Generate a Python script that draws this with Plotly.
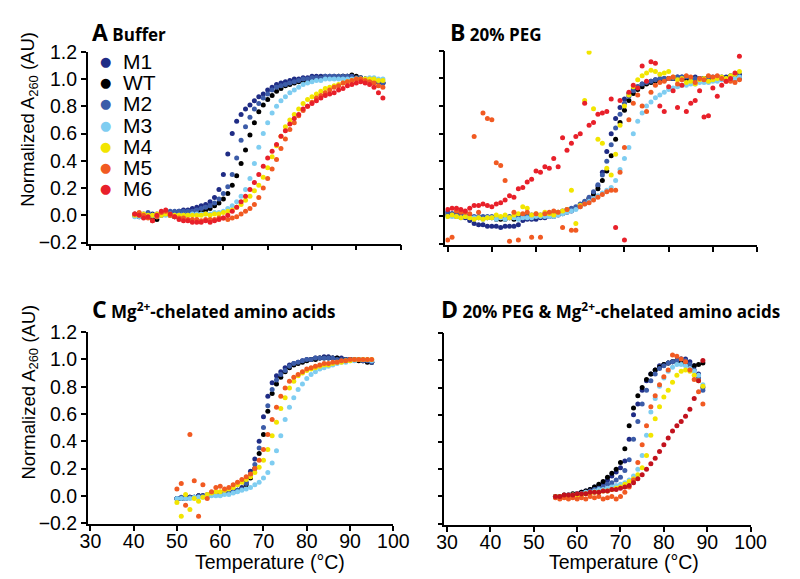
import plotly.graph_objects as go

# ---------------- data ----------------
SERIES = ["M1", "WT", "M2", "M3", "M4", "M5", "M6"]
COLORS = {"M1": "#1f2c85", "WT": "#000000", "M2": "#3c5ca8", "M3": "#7fcdf1",
          "M4": "#f2e500", "M5": "#f15a22", "M6": "#e8202a"}
COLOR_M6_D = "#c2121d"

# Panel A: Buffer (T = 40..96 °C)
T_A = list(range(40, 97))
A_M1 = [0.00, 0.00, -0.01, 0.00, 0.01, 0.00, 0.01, 0.02, 0.02, 0.02,
        0.03, 0.04, 0.04, 0.05, 0.06, 0.07, 0.08, 0.10, 0.13, 0.19,
        0.30, 0.45, 0.60, 0.69, 0.74, 0.78, 0.81, 0.84, 0.87, 0.89,
        0.92, 0.94, 0.96, 0.97, 0.98, 0.99, 1.00, 1.00, 1.01, 1.01,
        1.02, 1.02, 1.02, 1.02, 1.02, 1.02, 1.01, 1.02, 1.02, 1.01,
        1.01, 1.00, 1.00, 0.99, 0.99, 0.98, 0.97]
A_WT = [0.00, -0.01, 0.00, -0.01, -0.03, -0.03, 0.00, 0.01, 0.00, -0.01,
        0.00, 0.00, 0.01, 0.01, 0.02, 0.03, 0.04, 0.05, 0.07, 0.09,
        0.12, 0.16, 0.22, 0.29, 0.38, 0.48, 0.59, 0.68, 0.76, 0.81,
        0.85, 0.88, 0.91, 0.93, 0.95, 0.96, 0.97, 0.98, 0.99, 0.99,
        1.00, 1.00, 1.01, 1.01, 1.01, 1.01, 1.02, 1.02, 1.02, 1.03,
        1.02, 1.01, 1.00, 1.00, 0.99, 0.98, 0.97]
A_M2 = [0.01, 0.00, 0.01, 0.02, 0.00, 0.01, 0.02, 0.02, 0.03, 0.03,
        0.03, 0.03, 0.03, 0.03, 0.04, 0.05, 0.06, 0.07, 0.09, 0.12,
        0.16, 0.21, 0.30, 0.42, 0.55, 0.65, 0.72, 0.78, 0.82, 0.86,
        0.89, 0.92, 0.94, 0.95, 0.96, 0.97, 0.98, 0.99, 1.00, 1.00,
        1.01, 1.01, 1.01, 1.02, 1.02, 1.02, 1.02, 1.02, 1.02, 1.02,
        1.01, 1.01, 1.00, 1.00, 0.99, 0.98, 0.97]
A_M3 = [-0.01, -0.01, 0.00, -0.01, 0.00, -0.01, 0.00, 0.00, 0.01, 0.00,
        0.00, 0.00, 0.00, 0.01, 0.01, 0.01, 0.01, 0.01, 0.02, 0.02,
        0.03, 0.05, 0.07, 0.10, 0.14, 0.19, 0.27, 0.38, 0.50, 0.60,
        0.68, 0.75, 0.80, 0.84, 0.87, 0.90, 0.92, 0.94, 0.96, 0.97,
        0.98, 0.99, 0.99, 1.00, 1.00, 1.00, 1.00, 1.00, 1.00, 1.00,
        1.00, 1.00, 1.00, 1.01, 1.01, 1.00, 1.00]
A_M4 = [0.00, 0.00, 0.01, 0.00, 0.00, 0.01, 0.00, 0.01, 0.00, 0.00,
        0.00, 0.00, 0.00, 0.00, 0.00, 0.00, 0.01, 0.00, 0.01, 0.01,
        0.02, 0.03, 0.04, 0.06, 0.08, 0.11, 0.14, 0.18, 0.22, 0.28,
        0.35, 0.43, 0.51, 0.58, 0.65, 0.70, 0.74, 0.78, 0.82, 0.85,
        0.87, 0.89, 0.91, 0.93, 0.94, 0.95, 0.96, 0.97, 0.98, 0.99,
        1.00, 1.00, 1.00, 1.00, 1.00, 0.99, 0.99]
A_M5 = [0.01, 0.02, 0.00, -0.02, -0.04, -0.01, 0.02, 0.03, 0.00, -0.01,
        -0.02, -0.02, -0.03, -0.03, -0.03, -0.04, -0.03, -0.03, -0.03, -0.02,
        -0.02, -0.03, -0.02, -0.01, 0.01, 0.03, 0.05, 0.08, 0.13, 0.20,
        0.27, 0.34, 0.41, 0.49, 0.56, 0.63, 0.68, 0.73, 0.77, 0.80,
        0.83, 0.86, 0.88, 0.90, 0.92, 0.94, 0.95, 0.97, 0.98, 0.99,
        1.00, 1.00, 0.99, 0.98, 0.97, 0.95, 0.94]
A_M6 = [0.01, 0.00, -0.02, -0.01, -0.04, 0.00, 0.03, 0.04, 0.01, -0.01,
        -0.03, -0.04, -0.04, -0.05, -0.05, -0.05, -0.04, -0.05, -0.04, -0.03,
        -0.02, 0.00, 0.03, 0.06, 0.10, 0.14, 0.19, 0.24, 0.30, 0.36,
        0.42, 0.47, 0.52, 0.58, 0.62, 0.67, 0.71, 0.74, 0.78, 0.80,
        0.82, 0.84, 0.86, 0.88, 0.89, 0.90, 0.92, 0.93, 0.95, 0.96,
        0.97, 0.98, 0.97, 0.96, 0.94, 0.90, 0.86]

# Panel B: 20% PEG (T = 30..96 °C)
T_B = list(range(30, 97))
B_M1 = [0.03, 0.02, 0.01, 0.00, -0.01, -0.03, -0.05, -0.06, -0.06, -0.07,
        -0.07, -0.07, -0.08, -0.07, -0.07, -0.07, -0.06, -0.03, -0.02, -0.02,
        -0.02, -0.01, -0.01, 0.00, 0.00, 0.01, 0.02, 0.03, 0.04, 0.06,
        0.08, 0.10, 0.13, 0.17, 0.22, 0.32, 0.47, 0.60, 0.71, 0.79,
        0.85, 0.89, 0.92, 0.94, 0.96, 0.97, 0.98, 0.99, 0.99, 1.00,
        1.00, 1.00, 1.01, 1.01, 1.00, 1.00, 1.01, 1.00, 1.00, 1.00,
        1.00, 1.01, 1.01, 1.01, 1.02, 1.02, 1.03]
B_WT = [0.01, 0.01, 0.00, 0.00, 0.00, -0.01, -0.01, -0.01, -0.01, -0.01,
        -0.01, -0.02, -0.02, -0.02, -0.01, -0.02, -0.01, 0.01, 0.00, 0.00,
        0.00, 0.00, 0.01, 0.01, 0.02, 0.02, 0.03, 0.04, 0.05, 0.06,
        0.08, 0.10, 0.13, 0.16, 0.20, 0.26, 0.33, 0.44, 0.56, 0.68,
        0.77, 0.84, 0.89, 0.92, 0.94, 0.96, 0.97, 0.98, 0.99, 0.99,
        1.00, 1.00, 1.00, 1.00, 1.00, 1.00, 1.00, 1.00, 1.00, 1.00,
        1.00, 1.00, 1.00, 1.00, 1.00, 1.00, 1.00]
B_M2 = [0.03, 0.02, 0.02, 0.02, 0.01, 0.01, 0.00, 0.00, 0.00, 0.00,
        0.00, 0.00, -0.01, -0.01, 0.00, -0.01, 0.00, 0.00, 0.00, 0.01,
        0.01, 0.01, 0.02, 0.02, 0.03, 0.03, 0.04, 0.05, 0.06, 0.07,
        0.09, 0.11, 0.14, 0.18, 0.23, 0.30, 0.40, 0.52, 0.64, 0.74,
        0.82, 0.87, 0.91, 0.94, 0.96, 0.97, 0.98, 0.99, 1.00, 1.00,
        1.00, 1.00, 1.01, 1.01, 1.01, 1.00, 1.00, 1.00, 1.00, 1.01,
        1.01, 1.01, 1.00, 1.00, 1.01, 1.01, 1.01]
B_M3 = [0.00, 0.00, 0.00, -0.01, 0.00, -0.01, -0.01, -0.01, -0.02, -0.01,
        -0.01, -0.02, -0.01, -0.02, -0.01, -0.01, -0.02, -0.01, -0.01, -0.01,
        0.00, 0.00, 0.00, 0.00, 0.00, 0.01, 0.02, 0.03, 0.04, 0.05,
        0.07, 0.09, 0.11, 0.13, 0.15, 0.17, 0.19, 0.21, 0.26, 0.34,
        0.42, 0.50, 0.60, 0.69, 0.75, 0.80, 0.83, 0.86, 0.88, 0.90,
        0.92, 0.93, 0.94, 0.95, 0.95, 0.96, 0.96, 0.97, 0.97, 0.97,
        0.98, 0.98, 0.99, 0.99, 1.00, 1.00, 1.01]
B_M4 = [0.00, 0.01, 0.00, -0.01, 0.00, -0.01, -0.02, -0.01, -0.02, -0.01,
        -0.01, 0.01, 0.00, 0.01, -0.01, 0.01, 0.02, 0.07, 0.06, 0.01,
        0.02, 0.01, 0.03, 0.02, 0.01, 0.03, 0.04, 0.05, 0.19, -0.05,
        0.08, 0.84, 1.19, 0.78, 0.56, 0.53, 0.35, 0.30, 0.45, 0.66,
        0.80, 0.88, 0.94, 0.99, 1.02, 1.04, 1.06, 1.05, 1.03, 1.04,
        1.05, 1.01, 0.99, 1.00, 0.97, 0.98, 0.96, 0.99, 1.00, 0.98,
        0.99, 1.00, 1.01, 1.00, 1.02, 1.03, 1.05]
B_M5 = [-0.17, -0.15, 0.04, 0.03, 0.03, 0.02, 0.58, 0.03, 0.75, 0.71,
        0.70, 0.39, 0.37, 0.26, -0.18, 0.03, -0.17, 0.02, 0.03, -0.15,
        0.02, -0.15, 0.02, 0.03, 0.04, 0.03, -0.08, 0.05, -0.10, -0.10,
        0.07, 0.09, 0.10, 0.12, 0.14, 0.16, 0.18, 0.19, 0.19, 0.32,
        0.50, 0.70, 0.82, 0.88, 0.80, 0.76, 0.90, 0.95, 0.97, 0.98,
        1.00, 1.01, 0.96, 0.99, 1.02, 1.01, 0.97, 1.00, 0.99, 1.02,
        1.01, 1.02, 1.00, 0.98, 0.98, 0.97, 0.99]
B_M6 = [0.05, 0.06, 0.06, 0.05, 0.04, 0.06, 0.08, 0.08, 0.09, 0.08,
        0.07, 0.09, 0.10, 0.12, 0.15, 0.14, 0.20, 0.21, 0.25, 0.27,
        0.33, 0.32, 0.36, 0.35, 0.42, 0.36, 0.57, 0.48, 0.53, 0.58,
        0.60, 0.82, 0.66, 0.68, 0.74, 0.75, 0.76, 0.85, -0.08, 0.84,
        -0.17, 0.90, 0.95, 0.93, 1.09, 0.98, 1.12, 1.11, 0.80, 0.76,
        0.94, 0.91, 0.79, 0.95, 0.76, 0.82, 0.84, 0.91, 0.72, 0.73,
        0.93, 0.87, 0.95, 0.98, 1.00, 1.04, 1.16]

# Panel C: Mg2+-chelated amino acids (T = 50..95 °C)
T_C = list(range(50, 96))
C_M1 = [-0.02, -0.02, -0.02, -0.01, -0.01, 0.00, 0.00, 0.00, 0.01, 0.01,
        0.01, 0.02, 0.02, 0.03, 0.04, 0.06, 0.10, 0.18, 0.27, 0.40,
        0.58, 0.73, 0.83, 0.88, 0.91, 0.94, 0.96, 0.97, 0.98, 0.99,
        1.00, 1.00, 1.01, 1.01, 1.02, 1.02, 1.01, 1.01, 1.01, 1.00,
        1.00, 1.00, 1.00, 0.99, 0.99, 0.98]
C_WT = [-0.02, -0.02, -0.01, -0.01, -0.01, 0.00, 0.00, 0.00, 0.01, 0.01,
        0.01, 0.02, 0.02, 0.03, 0.04, 0.05, 0.08, 0.13, 0.20, 0.31,
        0.45, 0.62, 0.75, 0.82, 0.87, 0.91, 0.94, 0.96, 0.97, 0.98,
        0.99, 1.00, 1.00, 1.01, 1.01, 1.01, 1.01, 1.01, 1.00, 1.00,
        1.00, 1.00, 0.99, 0.99, 0.98, 0.98]
C_M2 = [-0.02, -0.01, -0.02, -0.01, -0.01, 0.00, 0.00, 0.01, 0.01, 0.01,
        0.02, 0.02, 0.03, 0.03, 0.04, 0.05, 0.09, 0.15, 0.23, 0.35,
        0.50, 0.66, 0.78, 0.85, 0.89, 0.92, 0.95, 0.97, 0.98, 0.99,
        1.00, 1.00, 1.01, 1.01, 1.01, 1.01, 1.01, 1.00, 1.00, 1.00,
        1.00, 1.00, 1.00, 0.99, 0.99, 0.98]
C_M3 = [-0.02, -0.02, -0.02, -0.02, -0.01, -0.01, -0.01, -0.01, 0.00, 0.00,
        0.00, 0.01, 0.01, 0.02, 0.03, 0.04, 0.05, 0.06, 0.08, 0.10,
        0.13, 0.17, 0.24, 0.33, 0.44, 0.56, 0.65, 0.72, 0.78, 0.82,
        0.86, 0.89, 0.91, 0.93, 0.94, 0.95, 0.96, 0.97, 0.98, 0.98,
        0.99, 0.99, 1.00, 1.00, 1.00, 0.99]
C_M4 = [-0.05, -0.15, 0.01, -0.10, -0.02, -0.04, -0.01, 0.01, 0.02, 0.03,
        0.03, 0.04, 0.05, 0.06, 0.08, 0.10, 0.12, 0.14, 0.17, 0.21,
        0.26, 0.34, 0.44, 0.54, 0.64, 0.72, 0.79, 0.84, 0.88, 0.90,
        0.92, 0.93, 0.94, 0.95, 0.96, 0.96, 0.97, 0.98, 0.98, 0.99,
        0.99, 1.00, 1.00, 1.00, 1.00, 1.00]
C_M5 = [0.05, 0.09, -0.07, 0.45, 0.11, -0.15, 0.08, -0.02, 0.03, 0.06,
        0.07, 0.05, 0.06, 0.08, 0.10, 0.12, 0.14, 0.16, 0.20, 0.26,
        0.34, 0.45, 0.56, 0.65, 0.73, 0.79, 0.84, 0.87, 0.89, 0.91,
        0.93, 0.94, 0.95, 0.96, 0.97, 0.97, 0.98, 0.98, 0.99, 0.99,
        1.00, 1.00, 1.00, 1.00, 1.00, 1.00]

# Panel D: 20% PEG & Mg2+-chelated amino acids (T = 55..89 °C)
T_D = list(range(55, 90))
D_M1 = [0.00, -0.01, 0.00, 0.00, 0.01, 0.02, 0.03, 0.04, 0.05, 0.07,
        0.08, 0.10, 0.12, 0.15, 0.18, 0.21, 0.26, 0.42, 0.60, 0.68,
        0.78, 0.85, 0.90, 0.93, 0.96, 0.97, 0.98, 0.99, 1.00, 1.01,
        1.01, 0.99, 0.96, 0.90, 0.80]
D_WT = [0.00, 0.00, 0.01, 0.01, 0.02, 0.02, 0.03, 0.04, 0.05, 0.07,
        0.09, 0.11, 0.14, 0.17, 0.20, 0.25, 0.35, 0.52, 0.65, 0.74,
        0.80, 0.86, 0.90, 0.93, 0.95, 0.97, 0.98, 0.99, 1.00, 0.99,
        0.97, 0.96, 0.96, 0.97, 0.98]
D_M2 = [0.00, 0.00, 0.00, 0.01, 0.01, 0.02, 0.02, 0.03, 0.04, 0.05,
        0.06, 0.07, 0.09, 0.10, 0.12, 0.14, 0.19, 0.27, 0.42, 0.55,
        0.68, 0.78, 0.85, 0.90, 0.94, 0.96, 0.98, 0.99, 1.00, 1.01,
        1.00, 0.97, 0.93, 0.87, 0.78]
D_M3 = [0.00, 0.00, 0.00, 0.01, 0.01, 0.02, 0.02, 0.03, 0.03, 0.04,
        0.05, 0.05, 0.06, 0.07, 0.08, 0.09, 0.10, 0.12, 0.15, 0.20,
        0.30, 0.45, 0.62, 0.72, 0.81, 0.87, 0.92, 0.95, 0.97, 0.97,
        0.96, 0.94, 0.92, 0.89, 0.82]
D_M4 = [0.00, 0.00, 0.00, 0.00, 0.01, 0.01, 0.01, 0.02, 0.02, 0.03,
        0.03, 0.04, 0.04, 0.05, 0.06, 0.07, 0.09, 0.11, 0.13, 0.16,
        0.21, 0.30, 0.45, 0.57, 0.66, 0.73, 0.78, 0.84, 0.89, 0.92,
        0.93, 0.92, 0.89, 0.85, 0.81]
D_M5 = [-0.01, -0.02, -0.01, -0.02, -0.01, -0.02, -0.01, -0.02, 0.00, -0.01,
        0.00, -0.02, -0.01, 0.00, -0.02, 0.00, 0.03, 0.07, 0.12, 0.25,
        0.38, 0.52, 0.66, 0.74, 0.82, 0.88, 0.93, 1.04, 1.03, 1.01,
        0.99, 0.93, 0.86, 0.77, 0.68]
D_M6 = [0.00, 0.00, 0.01, 0.01, 0.01, 0.02, 0.02, 0.02, 0.03, 0.03,
        0.03, 0.04, 0.04, 0.05, 0.05, 0.06, 0.07, 0.08, 0.10, 0.13,
        0.16, 0.20, 0.24, 0.28, 0.33, 0.38, 0.43, 0.48, 0.52, 0.55,
        0.59, 0.64, 0.72, 0.85, 1.00]

PANELS = [
    ("A", "Buffer", T_A, {"M1": A_M1, "WT": A_WT, "M2": A_M2, "M3": A_M3, "M4": A_M4, "M5": A_M5, "M6": A_M6}),
    ("B", "20% PEG", T_B, {"M1": B_M1, "WT": B_WT, "M2": B_M2, "M3": B_M3, "M4": B_M4, "M5": B_M5, "M6": B_M6}),
    ("C", "Mg<sup>2+</sup>-chelated amino acids", T_C, {"M1": C_M1, "WT": C_WT, "M2": C_M2, "M3": C_M3, "M4": C_M4, "M5": C_M5}),
    ("D", "20% PEG &amp; Mg<sup>2+</sup>-chelated amino acids", T_D, {"M1": D_M1, "WT": D_WT, "M2": D_M2, "M3": D_M3, "M4": D_M4, "M5": D_M5, "M6": D_M6}),
]

X_TICKS = [30, 40, 50, 60, 70, 80, 90, 100]
Y_TICKS = [-0.2, 0.0, 0.2, 0.4, 0.6, 0.8, 1.0, 1.2]

# ---------------- figure ----------------
W, H = 800, 579
fig = go.Figure()

# pixel-based layout boxes: (x0, x1, ytop, ybottom)
boxes = [(74, 396.5, 34, 233), (442.7, 764, 33, 235), (74, 389, 325, 524), (441.7, 757.3, 326, 525)]
yranges = [[-0.207, 1.2], [-0.21, 1.2], [-0.207, 1.2], [-0.21, 1.2]]
xranges = [[29.4, 100], [29.5, 100], [29.4, 100], [29.4, 100]]

for i, (letter, title, T, data) in enumerate(PANELS):
    xa = "x" if i == 0 else f"x{i+1}"
    ya = "y" if i == 0 else f"y{i+1}"
    for name in SERIES:
        if name not in data:
            continue
        col = COLORS[name]
        if letter == "D" and name == "M6":
            col = COLOR_M6_D
        fig.add_trace(go.Scatter(x=T, y=data[name], mode="markers", name=name,
                                 marker=dict(size=5, color=col, line=dict(width=0)),
                                 xaxis=xa, yaxis=ya, showlegend=False))
    x0, x1, yt, yb = boxes[i]
    axis_common = dict(showline=True, linecolor="black", linewidth=1.5, ticks="outside",
                       ticklen=5, tickwidth=1.5, tickcolor="black", showgrid=False, zeroline=False,
                       tickfont=dict(family="Liberation Sans, Arial, sans-serif", size=19.5, color="black"))
    xk = "xaxis" if i == 0 else f"xaxis{i+1}"
    yk = "yaxis" if i == 0 else f"yaxis{i+1}"
    fig.layout[xk] = dict(domain=[x0 / W, x1 / W], range=xranges[i], anchor=ya,
                          tickvals=X_TICKS, showticklabels=(i >= 2), ticklabelstandoff=-6, **axis_common)
    fig.layout[yk] = dict(domain=[1 - yb / H, 1 - yt / H], range=yranges[i], anchor=xa,
                          tickvals=Y_TICKS, tickformat=".1f", showticklabels=(i % 2 == 0), **axis_common)

annotations = []
title_pos = [(76, 14), (445, 14), (76, 301), (436, 301)]
for i, (letter, title, T, data) in enumerate(PANELS):
    px, py = title_pos[i]
    annotations.append(dict(x=px / W, y=1 - py / H, xref="paper", yref="paper", xanchor="left", yanchor="middle",
                            showarrow=False,
                            text=f"<b><span style='font-size:23px'>{letter}</span> {title}</b>",
                            font=dict(family="Open Sans, sans-serif", size=17, color="black")))

ylab = "Normalized A<sub>260</sub> (AU)"
for cy in (104, 387):
    annotations.append(dict(x=14 / W, y=1 - cy / H, xref="paper", yref="paper", xanchor="center", yanchor="middle",
                            textangle=-90, showarrow=False, text=ylab,
                            font=dict(family="Liberation Sans, Arial, sans-serif", size=18.5, color="black")))
for cx in (262, 627):
    annotations.append(dict(x=cx / W, y=1 - 563 / H, xref="paper", yref="paper", xanchor="center", yanchor="middle",
                            showarrow=False, text="Temperature (°C)",
                            font=dict(family="Liberation Sans, Arial, sans-serif", size=19.5, color="black")))

# legend (panel A)
for k, name in enumerate(SERIES):
    ry = 44 + 22 * k
    annotations.append(dict(x=92 / W, y=1 - ry / H, xref="paper", yref="paper", xanchor="center", yanchor="middle",
                            showarrow=False, text="●",
                            font=dict(family="DejaVu Sans", size=13, color=COLORS[name])))
    annotations.append(dict(x=108 / W, y=1 - ry / H, xref="paper", yref="paper", xanchor="left", yanchor="middle",
                            showarrow=False, text=name,
                            font=dict(family="Liberation Sans, Arial, sans-serif", size=21, color="black")))

fig.update_layout(width=W, height=H, margin=dict(l=0, r=0, t=0, b=0),
                  paper_bgcolor="white", plot_bgcolor="white", annotations=annotations,
                  showlegend=False)

fig.write_html("out.html")
